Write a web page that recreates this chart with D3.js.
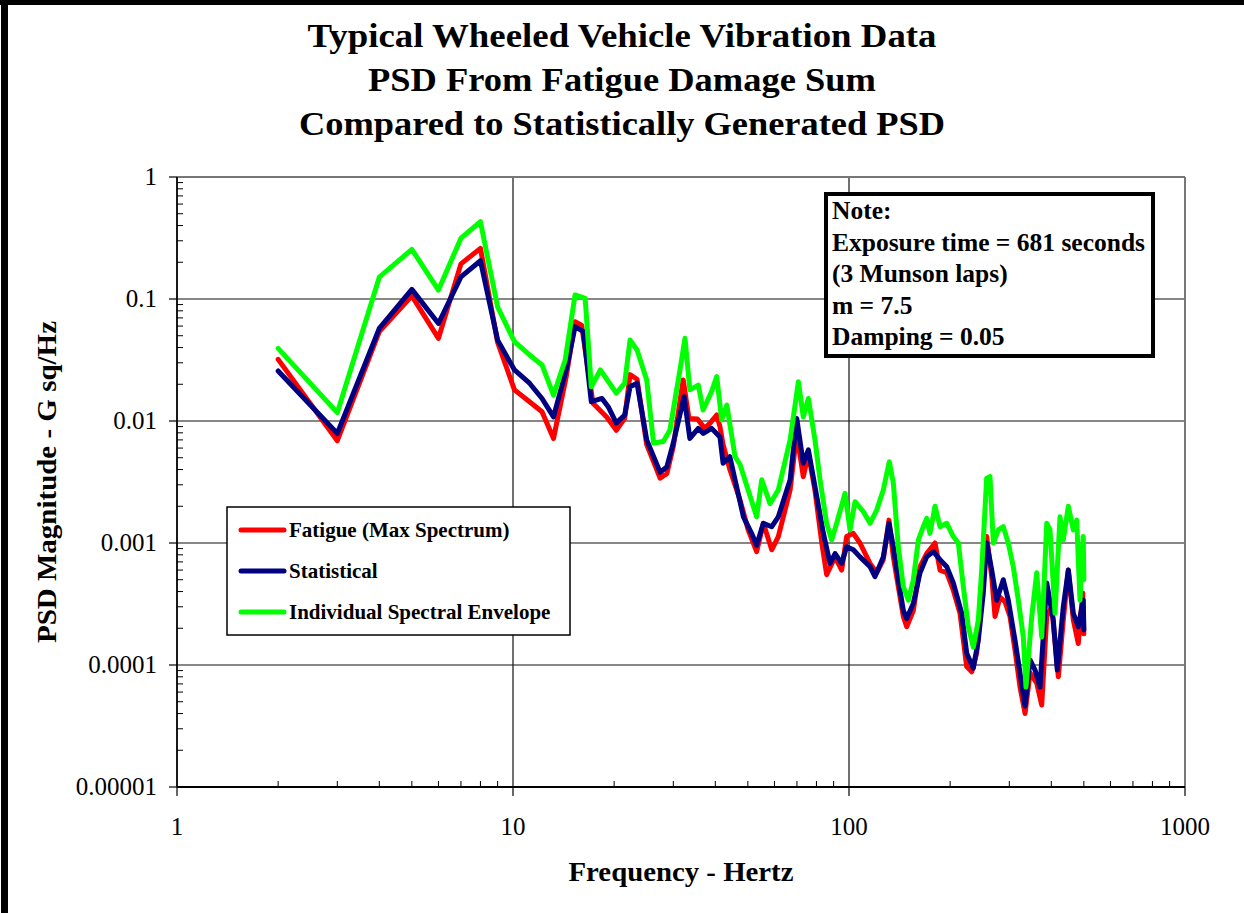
<!DOCTYPE html>
<html><head><meta charset="utf-8">
<script src="https://cdn.jsdelivr.net/npm/d3@7"></script>
<style>
body{margin:0;background:#fff}
svg{display:block}
text{font-family:"Liberation Serif","Times New Roman",serif;fill:#000}
</style>
</head><body>
<svg id="chart" width="1244" height="913"></svg>
<script>
const titleLines = ["Typical Wheeled Vehicle Vibration Data","PSD From Fatigue Damage Sum","Compared to Statistically Generated PSD"];
const xTitle = "Frequency - Hertz";
const yTitle = "PSD Magnitude - G sq/Hz";
const xTicks = [1,10,100,1000];
const xTickLabels = ["1","10","100","1000"];
const yTicks = [1,0.1,0.01,0.001,0.0001,0.00001];
const yTickLabels = ["1","0.1","0.01","0.001","0.0001","0.00001"];
const seriesNames = ["Fatigue (Max Spectrum)","Statistical","Individual Spectral Envelope"];
const seriesColors = ["#ff0000","#000080","#00ff00"];
const noteLines = ["Note:","Exposure time = 681 seconds","(3 Munson laps)","m = 7.5","Damping = 0.05"];

// [frequency Hz, PSD G^2/Hz]
const fatigue = [
[2,0.032],[3,0.0069],[4,0.054],[5,0.106],[6,0.0476],[7,0.194],[8,0.26],[9,0.044],
[10.1,0.018],[11.2,0.0144],[12.2,0.0119],[13.2,0.0072],[14.4,0.023],[15.3,0.065],[16,0.061],
[17.3,0.014],[19,0.0108],[20.3,0.0084],[21.5,0.0105],[22.3,0.024],[23.4,0.022],[25,0.0064],
[27.4,0.0034],[28.7,0.0037],[30,0.0062],[32.1,0.0217],[33.4,0.0105],[35.4,0.0104],[37.2,0.0087],
[38.6,0.0096],[40.4,0.0112],[41.3,0.009],[42.2,0.0064],[44.2,0.004],[47.4,0.00225],[50.1,0.00128],
[53.1,0.00085],[55.6,0.00145],[58.9,0.00088],[61.6,0.00113],[66.8,0.00272],[69.9,0.0079],
[73.1,0.0035],[75.7,0.0054],[79.2,0.0027],[83,0.001],[85.8,0.00055],[90.9,0.00077],[95.1,0.0006],
[98.4,0.00113],[103,0.0012],[107.8,0.001],[115.5,0.00068],[120.9,0.00057],[126.5,0.00073],
[131.5,0.00154],[135.5,0.00077],[140.2,0.00044],[145.1,0.00025],[148.5,0.000206],[155.4,0.00028],
[162.7,0.00064],[170.3,0.00082],[180.3,0.001],[186.6,0.0006],[195.4,0.00057],[204.4,0.00041],
[214,0.000265],[224,0.000097],[231.9,0.000088],[239.9,0.000125],[248.3,0.00034],[256.9,0.00113],
[265.9,0.00053],[272,0.00025],[281.4,0.00036],[291.2,0.00033],[301.4,0.00025],[311.9,0.000133],
[322.8,0.000066],[334.2,0.00004],[345.8,0.000086],[362,0.000071],[374.6,0.000047],[387.7,0.00025],
[401.2,0.0003],[419.8,0.00008],[434.3,0.000234],[449.5,0.0006],[465.2,0.000234],[481.3,0.00015],
[496.1,0.00039],[500,0.00018]
];
const statistical = [
[2,0.0257],[3,0.0079],[4,0.0575],[5,0.12],[6,0.063],[7,0.152],[8,0.206],[9,0.046],
[10.1,0.0262],[11.2,0.0204],[12.2,0.0153],[13.2,0.0108],[14.4,0.0262],[15.3,0.0593],[16.2,0.054],
[17.1,0.0144],[18.4,0.0153],[19.2,0.0131],[20.3,0.0096],[21.5,0.0112],[22.3,0.0191],[23.4,0.0204],
[25,0.007],[27.4,0.0038],[28.7,0.0042],[30,0.0066],[32.3,0.0158],[33.6,0.0072],[35.6,0.0087],
[36.85,0.0079],[39,0.0087],[41.3,0.0074],[42.2,0.0045],[44.2,0.0051],[45.8,0.0033],[48.5,0.00164],
[51.3,0.0012],[53.1,0.00096],[55.6,0.00145],[58.9,0.00136],[61.6,0.00164],[66.8,0.0033],[69.9,0.0105],
[73.1,0.0045],[75.7,0.0058],[79.2,0.0029],[83.9,0.0012],[87.8,0.00068],[90.9,0.00082],[95.1,0.00068],
[98.4,0.00093],[103,0.00088],[107.8,0.00077],[115.5,0.00064],[119.5,0.00053],[126.5,0.00077],
[131.5,0.00145],[135.5,0.00093],[140.2,0.0005],[145.1,0.00028],[148.5,0.00024],[155.4,0.00032],
[162.7,0.00057],[170.3,0.00077],[178.2,0.00085],[186.6,0.00073],[195.4,0.00064],[204.4,0.00047],
[216.5,0.000265],[224,0.000125],[234.4,0.000094],[242.6,0.00016],[251,0.00039],[256.9,0.001],
[265.9,0.0006],[275.1,0.00034],[287.9,0.0005],[297.9,0.00034],[311.9,0.00016],[322.8,0.000086],
[334.2,0.000046],[345.8,0.00011],[357.8,0.000091],[370.3,0.000066],[387.7,0.00047],[405.5,0.000234],
[416.8,0.000091],[434.3,0.0003],[449.5,0.0006],[465.2,0.000265],[481.3,0.000206],[498,0.00034],
[500,0.000194]
];
const envelope = [
[2,0.0394],[3,0.0117],[4,0.151],[5,0.255],[6,0.1185],[7,0.315],[8,0.43],[9,0.086],
[10.1,0.0447],[11.2,0.0348],[12.2,0.0288],[13.2,0.0163],[14.3,0.0316],[15.3,0.108],[16.4,0.101],
[17.1,0.0191],[18.2,0.0262],[20.3,0.0169],[21.5,0.0204],[22.3,0.0461],[23.4,0.0382],[25,0.0217],
[26.2,0.0066],[28,0.0068],[29.3,0.0084],[31.4,0.0262],[32.5,0.0476],[33.6,0.018],[35.6,0.0197],
[36.8,0.0123],[39,0.0174],[40.4,0.0231],[41.8,0.0102],[43.3,0.0135],[45.8,0.0051],[47.4,0.0044],
[50.1,0.00272],[53.1,0.00164],[55,0.0033],[58.2,0.0021],[61.6,0.00272],[66.8,0.007],[70.7,0.021],
[73.1,0.0108],[75.7,0.0153],[79.2,0.007],[82,0.0033],[85.8,0.00145],[88.8,0.00106],[91.9,0.00145],
[97.3,0.00255],[100.7,0.00128],[104.2,0.00218],[110.3,0.00181],[115.5,0.00145],[120.9,0.00186],
[126.5,0.00272],[131.8,0.00464],[135.5,0.0031],[140.2,0.00093],[145.1,0.00044],[150.2,0.00034],
[155.4,0.0005],[160.9,0.00106],[166.4,0.00136],[170.3,0.00159],[174.2,0.0012],[180.3,0.002],
[186.6,0.00136],[195.4,0.00145],[204.4,0.00113],[211.5,0.001],[218.9,0.00044],[226.5,0.000206],
[234.4,0.00014],[242.6,0.000234],[248.3,0.0006],[256.9,0.0034],[262.8,0.0035],[268.9,0.001],
[278.3,0.00128],[287.9,0.00136],[297.9,0.001],[308.3,0.00064],[319.1,0.00034],[330.2,0.00017],
[336.3,0.000066],[349.9,0.00025],[362,0.00057],[374.6,0.00017],[387.7,0.00145],[396.5,0.00128],
[410.3,0.000265],[424.6,0.00164],[434.3,0.00106],[449.5,0.002],[465.2,0.00128],[476.1,0.00154],
[487,0.00034],[498,0.00113],[500,0.0005]
];
const seriesData = [fatigue, statistical, envelope];

const svg = d3.select("#chart");
svg.append("rect").attr("width",1244).attr("height",913).attr("fill","#fff");

const x = d3.scaleLog().domain([1,1000]).range([177,1185]);
const y = d3.scaleLog().domain([0.00001,1]).range([787,177]);

// page border (left and top)
svg.append("rect").attr("x",1).attr("y",0).attr("width",7).attr("height",913).attr("fill","#000");
svg.append("rect").attr("x",0).attr("y",0).attr("width",1244).attr("height",5).attr("fill","#000");

// title
const tl = [629,508,646];
titleLines.forEach((t,i)=>{
  svg.append("text").attr("x",622).attr("y",47+i*44).attr("text-anchor","middle")
    .attr("font-size",34).attr("font-weight","bold")
    .attr("textLength",tl[i]).attr("lengthAdjust","spacingAndGlyphs").text(t);
});

// grid
const g = svg.append("g");
g.selectAll(".gx").data(xTicks.slice(1,-1)).join("line")
  .attr("x1",d=>x(d)).attr("x2",d=>x(d)).attr("y1",y(1)).attr("y2",y(0.00001))
  .attr("stroke","#111").attr("stroke-width",1.2);
g.selectAll(".gy").data(yTicks.slice(1,-1)).join("line")
  .attr("x1",x(1)).attr("x2",x(1000)).attr("y1",d=>y(d)).attr("y2",d=>y(d))
  .attr("stroke","#111").attr("stroke-width",1.2);

// frame top/right
svg.append("line").attr("x1",x(1)).attr("x2",x(1000)).attr("y1",y(1)).attr("y2",y(1)).attr("stroke","#777").attr("stroke-width",2);
svg.append("line").attr("x1",x(1000)).attr("x2",x(1000)).attr("y1",y(1)).attr("y2",y(0.00001)).attr("stroke","#777").attr("stroke-width",2);

// minor ticks
const xMinor = [], yMinor = [];
xTicks.slice(0,-1).forEach(d=>{for(let k=2;k<10;k++) xMinor.push(d*k);});
yTicks.slice(1).forEach(d=>{for(let k=2;k<10;k++) yMinor.push(d*k);});
svg.selectAll(".xm").data(xMinor).join("line")
  .attr("x1",d=>x(d)).attr("x2",d=>x(d)).attr("y1",y(0.00001)).attr("y2",y(0.00001)-6)
  .attr("stroke","#000").attr("stroke-width",1);
svg.selectAll(".ym").data(yMinor).join("line")
  .attr("x1",x(1)).attr("x2",x(1)+6).attr("y1",d=>y(d)).attr("y2",d=>y(d))
  .attr("stroke","#000").attr("stroke-width",1);

// axes lines & major ticks
svg.append("line").attr("x1",x(1)).attr("x2",x(1000)).attr("y1",y(0.00001)).attr("y2",y(0.00001)).attr("stroke","#000").attr("stroke-width",1.8);
svg.append("line").attr("x1",x(1)).attr("x2",x(1)).attr("y1",y(1)).attr("y2",y(0.00001)).attr("stroke","#000").attr("stroke-width",1.8);
svg.selectAll(".xt").data(xTicks).join("line")
  .attr("x1",d=>x(d)).attr("x2",d=>x(d)).attr("y1",y(0.00001)).attr("y2",y(0.00001)+9)
  .attr("stroke","#000").attr("stroke-width",1.2);
svg.selectAll(".yt").data(yTicks).join("line")
  .attr("x1",x(1)-8).attr("x2",x(1)).attr("y1",d=>y(d)).attr("y2",d=>y(d))
  .attr("stroke","#000").attr("stroke-width",1.2);

// tick labels
svg.selectAll(".xl").data(xTicks).join("text")
  .attr("x",d=>x(d)).attr("y",835).attr("text-anchor","middle").attr("font-size",25)
  .text((d,i)=>xTickLabels[i]);
svg.selectAll(".yl").data(yTicks).join("text")
  .attr("x",157).attr("y",d=>y(d)+8).attr("text-anchor","end").attr("font-size",25)
  .text((d,i)=>yTickLabels[i]);

// axis titles
svg.append("text").attr("x",681).attr("y",881).attr("text-anchor","middle")
  .attr("font-size",27).attr("font-weight","bold")
  .attr("textLength",225).attr("lengthAdjust","spacingAndGlyphs").text(xTitle);
svg.append("text").attr("transform","translate(56,482) rotate(-90)").attr("text-anchor","middle")
  .attr("font-size",27).attr("font-weight","bold")
  .attr("textLength",322).attr("lengthAdjust","spacingAndGlyphs").text(yTitle);

// series
const line = d3.line().x(d=>x(d[0])).y(d=>y(d[1]));
seriesData.forEach((s,i)=>{
  svg.append("path").datum(s).attr("d",line).attr("fill","none")
    .attr("stroke",seriesColors[i]).attr("stroke-width",5)
    .attr("stroke-linejoin","round").attr("stroke-linecap","round");
});

// legend
const lg = svg.append("g");
lg.append("rect").attr("x",227).attr("y",507).attr("width",343).attr("height",128)
  .attr("fill","#fff").attr("stroke","#000").attr("stroke-width",1.5);
const legY = [530,571,612];
seriesNames.forEach((n,i)=>{
  lg.append("line").attr("x1",241).attr("x2",284).attr("y1",legY[i]).attr("y2",legY[i])
    .attr("stroke",seriesColors[i]).attr("stroke-width",5).attr("stroke-linecap","round");
  lg.append("text").attr("x",289).attr("y",legY[i]+7).attr("font-size",21).attr("font-weight","bold").text(n);
});

// note box
const nb = svg.append("g");
nb.append("rect").attr("x",826).attr("y",194).attr("width",327).attr("height",162)
  .attr("fill","#fff").attr("stroke","#000").attr("stroke-width",4);
noteLines.forEach((t,i)=>{
  nb.append("text").attr("x",832).attr("y",219+i*31.5).attr("font-size",25.5).attr("font-weight","bold").text(t);
});
</script>
</body></html>
